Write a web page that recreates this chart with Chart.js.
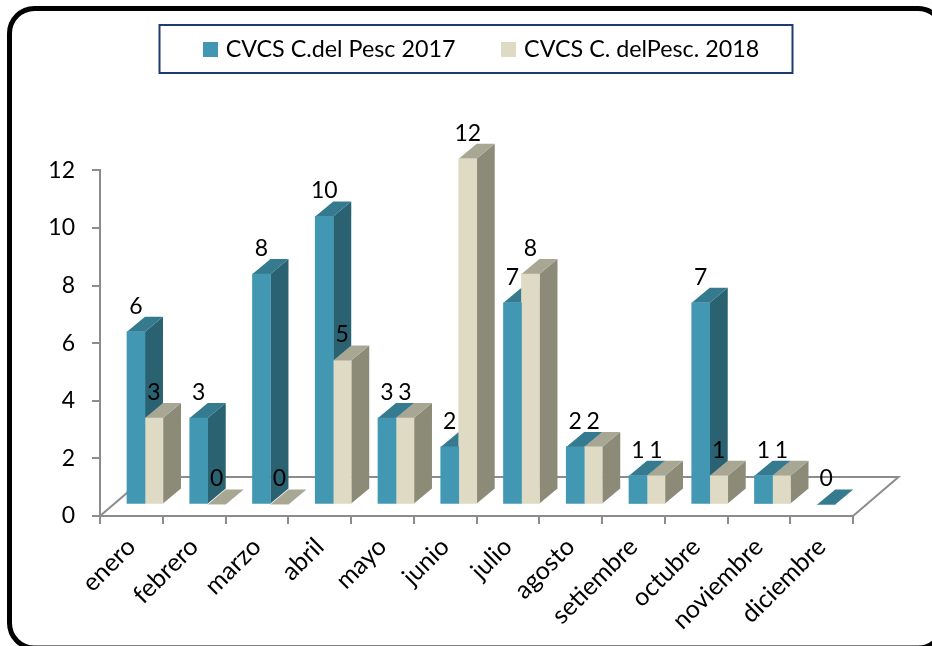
<!DOCTYPE html>
<html>
<head>
<meta charset="utf-8">
<style>html,body{margin:0;padding:0;background:#fff}canvas{display:block}</style>
<script src="https://cdn.jsdelivr.net/npm/chart.js@4"></script>
</head>
<body>
<canvas id="c" width="932" height="646"></canvas>
<script>
const months = ['enero','febrero','marzo','abril','mayo','junio','julio','agosto','setiembre','octubre','noviembre','diciembre'];
const series2017 = [6,3,8,10,3,2,7,2,1,7,1,0];
const series2018 = [3,0,0,5,3,12,8,2,1,1,1,null];
const name2017 = 'CVCS C.del Pesc 2017';
const name2018 = 'CVCS C. delPesc. 2018';
const yTicks = [0,2,4,6,8,10,12];

const FONT = 'Lato';
const FS = 23;
const LEGEND_FS = 23.3;
const XFS = 25;
const AXIS = '#8c8c8c';
const palette = [
  {front:'#4298b3', side:'#2a6271', top:'#357a8e'},
  {front:'#dedac4', side:'#8c8b78', top:'#a8a794'}
];
// 3D look
const BAR_DX = 13.6, BAR_DY = -11.5, DEPTH_X = 18, DEPTH_Y = -15;
const FLOOR_X = 45.5, FLOOR_Y = -39;

function swatch(color){
  const cv = document.createElement('canvas');
  cv.width = 15; cv.height = 15;
  const g = cv.getContext('2d');
  g.fillStyle = color; g.fillRect(0,0,15,15);
  return cv;
}

function poly(ctx, pts, fill){
  ctx.beginPath();
  pts.forEach((p,i)=> i ? ctx.lineTo(p[0],p[1]) : ctx.moveTo(p[0],p[1]));
  ctx.closePath();
  ctx.fillStyle = fill;
  ctx.fill();
}

const frame3d = {
  id:'frame3d',
  afterLayout(chart){
    const l = chart.legend;
    l.left = 157; l.right = 932; l.top = -12; l.bottom = 60;
  },
  beforeDraw(chart){
    const ctx = chart.ctx;
    ctx.save();
    ctx.fillStyle = '#fff';
    ctx.fillRect(0,0,chart.width,chart.height);
    ctx.beginPath();
    ctx.roundRect(9.5,8.5,933.5,639.5,25);
    ctx.lineWidth = 5;
    ctx.strokeStyle = '#000';
    ctx.stroke();
    ctx.beginPath();
    ctx.rect(159.5,25,633,48);
    ctx.lineWidth = 2;
    ctx.strokeStyle = '#1f3a6e';
    ctx.stroke();
    ctx.restore();
  },
  beforeDatasetsDraw(chart){
    const {ctx, chartArea:a} = chart;
    ctx.save();
    ctx.strokeStyle = AXIS;
    ctx.lineWidth = 2;
    ctx.beginPath();
    ctx.moveTo(a.left,a.bottom);
    ctx.lineTo(a.left+FLOOR_X,a.bottom+FLOOR_Y);
    ctx.lineTo(a.right+FLOOR_X,a.bottom+FLOOR_Y);
    ctx.lineTo(a.right,a.bottom);
    ctx.stroke();
    // side and top faces of every bar, first series first; front faces come from the datasets
    ctx.translate(BAR_DX,BAR_DY);
    chart.data.datasets.forEach((ds,k)=>{
      const col = palette[k];
      chart.getDatasetMeta(k).data.forEach((el,i)=>{
        if (ds.data[i] == null) return;
        const w = el.width/2, l = el.x-w, r = el.x+w, t = el.y, b = el.base;
        poly(ctx,[[r,t],[r+DEPTH_X,t+DEPTH_Y],[r+DEPTH_X,b+DEPTH_Y],[r,b]],col.side);
        poly(ctx,[[l,t],[l+DEPTH_X,t+DEPTH_Y],[r+DEPTH_X,t+DEPTH_Y],[r,t]],col.top);
      });
    });
    ctx.restore();
  },
  beforeDatasetDraw(chart){
    chart.ctx.save();
    chart.ctx.translate(BAR_DX,BAR_DY);
  },
  afterDatasetDraw(chart){
    chart.ctx.restore();
  },
  afterDatasetsDraw(chart){
    const ctx = chart.ctx;
    ctx.save();
    ctx.font = FS+'px '+FONT;
    ctx.fillStyle = '#000';
    ctx.textAlign = 'center';
    ctx.textBaseline = 'middle';
    chart.data.datasets.forEach((ds,k)=>{
      chart.getDatasetMeta(k).data.forEach((el,i)=>{
        if (ds.data[i] == null) return;
        ctx.fillText(String(ds.data[i]), el.x+BAR_DX, el.y+BAR_DY-25.5);
      });
    });
    ctx.restore();
  }
};

new Chart(document.getElementById('c'),{
  type:'bar',
  plugins:[frame3d],
  data:{
    labels:months,
    datasets:[
      {label:name2017,data:series2017,backgroundColor:palette[0].front,clip:false},
      {label:name2018,data:series2018,backgroundColor:palette[1].front,clip:false}
    ]
  },
  options:{
    responsive:false,
    animation:false,
    devicePixelRatio:1,
    barThickness:18,
    layout:{padding:{left:0,right:79,top:87,bottom:0}},
    plugins:{
      tooltip:{enabled:false},
      title:{display:false},
      legend:{
        display:true,position:'top',align:'start',
        labels:{
          color:'#000',
          font:{family:FONT,size:LEGEND_FS},
          usePointStyle:true,
          pointStyleWidth:7,
          padding:50,
          generateLabels(chart){
            return chart.data.datasets.map((d,i)=>({
              text:d.label,
              fillStyle:d.backgroundColor,
              strokeStyle:d.backgroundColor,
              lineWidth:0,
              pointStyle:swatch(d.backgroundColor),
              datasetIndex:i
            }));
          }
        }
      }
    },
    scales:{
      x:{
        offset:true,
        border:{color:AXIS,width:2},
        grid:{display:true,drawOnChartArea:false,drawTicks:true,offset:true,tickLength:8,color:AXIS,lineWidth:2},
        ticks:{color:'#000',font:{family:FONT,size:XFS},minRotation:45,maxRotation:45,padding:8,autoSkip:false},
        afterFit(s){s.height = 130;}
      },
      y:{
        min:0,max:12,
        border:{color:AXIS,width:2},
        grid:{display:true,drawOnChartArea:false,drawTicks:true,tickLength:8,color:AXIS,lineWidth:2},
        afterBuildTicks(s){s.ticks = yTicks.map(v=>({value:v}));},
        ticks:{color:'#000',font:{family:FONT,size:FS},padding:17},
        afterFit(s){s.width = 100;}
      }
    }
  }
});
</script>
</body>
</html>
